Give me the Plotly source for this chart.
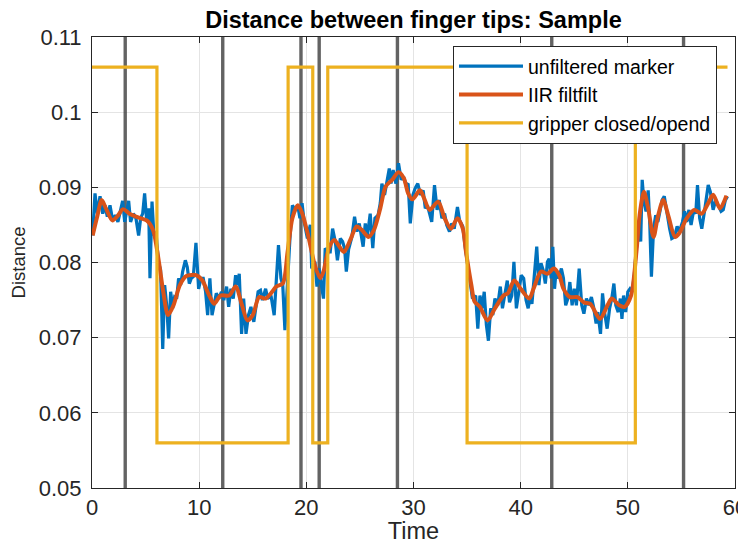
import plotly.graph_objects as go

# ---------------- data ----------------
raw_t = [0.06, 0.28, 0.50, 0.75, 1.00, 1.21, 1.43, 1.68, 1.93, 2.18, 2.42, 2.67, 2.86, 3.05, 3.23, 3.42,
         3.60, 3.86, 4.10, 4.35, 4.54, 4.73, 4.91, 5.10, 5.29, 5.41, 5.60, 5.78, 5.97, 6.19, 6.40, 6.60,
         6.78, 6.97, 7.15, 7.34, 7.53, 7.71, 7.90, 8.08, 8.27, 8.46, 8.71, 8.89, 9.08, 9.27, 9.45, 9.70,
         9.95, 10.17, 10.38, 10.60, 10.79, 11.00, 11.20, 11.40, 11.60, 11.84, 12.08, 12.30, 12.56, 12.75,
         12.96, 13.18, 13.40, 13.59, 13.74, 13.96, 14.15, 14.37, 14.60, 14.83, 15.10, 15.50, 15.72, 15.90,
         16.20, 16.40, 16.70, 17.00, 17.40, 17.63, 17.80, 18.00, 18.25, 18.47, 18.70, 18.97, 19.20, 19.40,
         19.60, 19.80, 20.10, 20.37, 20.50, 20.80, 20.99, 21.20, 21.40, 21.60, 21.76, 22.00, 22.23, 22.45,
         22.70, 22.90, 23.17, 23.38, 23.57, 23.73, 23.94, 24.25, 24.50, 24.72, 24.94, 25.10, 25.30, 25.50,
         25.70, 25.96, 26.20, 26.40, 26.70, 26.90, 27.05, 27.30, 27.55, 27.74, 27.90, 28.10, 28.36, 28.60,
         28.85, 29.07, 29.30, 29.50, 29.70, 29.95, 30.16, 30.40, 30.65, 30.90, 31.10, 31.30, 31.50, 31.70,
         31.96, 32.20, 32.40, 32.65, 32.90, 33.10, 33.36, 33.57, 33.80, 34.10, 34.30, 34.60, 34.80, 35.00,
         35.30, 35.50, 35.80, 36.00, 36.20, 36.40, 36.60, 36.80, 36.99, 37.20, 37.40, 37.60, 37.86, 38.10,
         38.30, 38.53, 38.75, 38.96, 39.17, 39.37, 39.60, 39.83, 40.05, 40.28, 40.50, 40.70, 40.90, 41.05,
         41.20, 41.50, 41.70, 41.90, 42.10, 42.30, 42.50, 42.66, 42.85, 43.00, 43.16, 43.30, 43.55, 43.80,
         43.99, 44.20, 44.40, 44.59, 44.80, 45.00, 45.20, 45.46, 45.70, 45.90, 46.14, 46.36, 46.60, 46.80,
         47.04, 47.20, 47.45, 47.64, 47.82, 48.07, 48.30, 48.50, 48.70, 48.88, 49.10, 49.30, 49.45, 49.60,
         49.80, 50.00, 50.20, 50.40, 50.60, 50.80, 51.00, 51.20, 51.34, 51.50, 51.70, 51.90, 52.05, 52.20,
         52.40, 52.60, 52.80, 53.05, 53.20, 53.40, 53.70, 53.90, 54.10, 54.35, 54.60, 54.80, 55.10, 55.30,
         55.50, 55.70, 55.90, 56.15, 56.34, 56.50, 56.70, 56.90, 57.15, 57.30, 57.50, 57.70, 57.96, 58.20,
         58.46, 58.70, 58.90, 59.10, 59.30]
raw_d = [0.0836, 0.0892, 0.0865, 0.0888, 0.0865, 0.0876, 0.0861, 0.0876, 0.0856, 0.0863, 0.0854, 0.0870,
         0.0882, 0.0854, 0.0870, 0.0882, 0.0854, 0.0865, 0.0859, 0.0836, 0.0859, 0.0865, 0.0892, 0.0856,
         0.0872, 0.0779, 0.0881, 0.0836, 0.0841, 0.0801, 0.0790, 0.0685, 0.0770, 0.0743, 0.0699, 0.0761,
         0.0739, 0.0754, 0.0752, 0.0779, 0.0770, 0.0788, 0.0803, 0.0794, 0.0772, 0.0779, 0.0781, 0.0826,
         0.0765, 0.0779, 0.0779, 0.0761, 0.0730, 0.0779, 0.0730, 0.0747, 0.0759, 0.0752, 0.0761, 0.0750,
         0.0768, 0.0741, 0.0765, 0.0752, 0.0783, 0.0770, 0.0785, 0.0705, 0.0752, 0.0705, 0.0730, 0.0741,
         0.0721, 0.0761, 0.0763, 0.0750, 0.0765, 0.0752, 0.0756, 0.0730, 0.0823, 0.0779, 0.0770, 0.0710,
         0.0779, 0.0832, 0.0876, 0.0870, 0.0876, 0.0859, 0.0879, 0.0854, 0.0832, 0.0850, 0.0792, 0.0801,
         0.0768, 0.0792, 0.0770, 0.0752, 0.0819, 0.0814, 0.0814, 0.0845, 0.0828, 0.0803, 0.0832, 0.0828,
         0.0819, 0.0788, 0.0817, 0.0834, 0.0861, 0.0841, 0.0852, 0.0839, 0.0821, 0.0852, 0.0836, 0.0865,
         0.0819, 0.0859, 0.0863, 0.0879, 0.0905, 0.0890, 0.0908, 0.0925, 0.0905, 0.0923, 0.0905, 0.0932,
         0.0910, 0.0914, 0.0903, 0.0905, 0.0852, 0.0890, 0.0899, 0.0905, 0.0890, 0.0896, 0.0872, 0.0876,
         0.0865, 0.0854, 0.0903, 0.0870, 0.0883, 0.0859, 0.0865, 0.0850, 0.0841, 0.0852, 0.0845, 0.0874,
         0.0856, 0.0848, 0.0823, 0.0801, 0.0774, 0.0752, 0.0756, 0.0712, 0.0756, 0.0739, 0.0761, 0.0717,
         0.0696, 0.0739, 0.0730, 0.0752, 0.0743, 0.0768, 0.0739, 0.0756, 0.0776, 0.0747, 0.0756, 0.0801,
         0.0739, 0.0761, 0.0783, 0.0779, 0.0750, 0.0739, 0.0756, 0.0745, 0.0770, 0.0821, 0.0770, 0.0799,
         0.0790, 0.0772, 0.0801, 0.0805, 0.0779, 0.0821, 0.0765, 0.0788, 0.0779, 0.0792, 0.0779, 0.0743,
         0.0752, 0.0774, 0.0743, 0.0765, 0.0743, 0.0792, 0.0743, 0.0732, 0.0752, 0.0743, 0.0754, 0.0741,
         0.0719, 0.0734, 0.0705, 0.0759, 0.0734, 0.0712, 0.0739, 0.0752, 0.0772, 0.0743, 0.0734, 0.0752,
         0.0725, 0.0756, 0.0734, 0.0761, 0.0765, 0.0761, 0.0783, 0.0819, 0.0841, 0.0828, 0.0910, 0.0881,
         0.0868, 0.0896, 0.0850, 0.0781, 0.0845, 0.0863, 0.0854, 0.0874, 0.0883, 0.0888, 0.0859, 0.0845,
         0.0832, 0.0834, 0.0848, 0.0841, 0.0854, 0.0868, 0.0854, 0.0870, 0.0850, 0.0870, 0.0865, 0.0903,
         0.0859, 0.0845, 0.0868, 0.0881, 0.0903, 0.0894, 0.0870, 0.0883, 0.0874, 0.0868, 0.0870, 0.0883,
         0.0888]

filt_t = [0.06, 0.5, 0.9, 1.3, 1.9, 2.4, 2.9, 3.5, 4.5, 5.1, 5.7, 6.2, 6.65, 7.1, 7.6, 8.2, 8.8, 9.76,
          10.3, 10.94, 11.4, 12.0, 12.8, 13.4, 14.0, 14.5, 15.0, 15.6, 16.2, 16.7, 17.2, 17.8, 18.25,
          18.7, 19.2, 19.6, 20.2, 20.8, 21.3, 21.6, 22.1, 22.6, 23.0, 23.5, 24.1, 24.7, 25.2, 25.8, 26.3,
          26.9, 27.4, 28.0, 28.6, 29.1, 29.5, 29.9, 30.6, 31.0, 31.5, 32.3, 32.9, 33.5, 34.1, 34.6, 34.9,
          35.4, 35.7, 36.2, 36.9, 37.6, 38.4, 38.8, 39.4, 40.0, 40.8, 41.2, 41.9, 42.5, 43.1, 43.6, 44.0,
          44.6, 45.3, 45.9, 46.5, 47.4, 48.1, 48.5, 49.2, 49.7, 50.3, 50.8, 51.1, 51.5, 51.9, 52.4, 52.8,
          53.3, 53.8, 54.4, 54.8, 55.5, 56.2, 56.9, 57.5, 57.96, 58.6, 59.2]
filt_d = [0.0836, 0.0862, 0.0883, 0.0872, 0.0856, 0.0862, 0.0871, 0.0865, 0.0859, 0.0856, 0.0843, 0.0805,
          0.0761, 0.0730, 0.0743, 0.0770, 0.0782, 0.0783, 0.0776, 0.0756, 0.0745, 0.0756, 0.0756, 0.0768,
          0.0743, 0.0723, 0.0730, 0.0754, 0.0752, 0.0759, 0.0768, 0.0772, 0.0814, 0.0859, 0.0876, 0.0866,
          0.0834, 0.0796, 0.0779, 0.0788, 0.0819, 0.0830, 0.0823, 0.0814, 0.0830, 0.0848, 0.0843, 0.0834,
          0.0843, 0.0872, 0.0901, 0.0910, 0.0920, 0.0912, 0.0892, 0.0884, 0.0896, 0.0885, 0.0870, 0.0881,
          0.0859, 0.0845, 0.0859, 0.0845, 0.0814, 0.0770, 0.0748, 0.0741, 0.0723, 0.0739, 0.0756, 0.0759,
          0.0776, 0.0765, 0.0752, 0.0765, 0.0788, 0.0785, 0.0792, 0.0783, 0.0765, 0.0754, 0.0754, 0.0747,
          0.0745, 0.0725, 0.0743, 0.0752, 0.0743, 0.0741, 0.0756, 0.0814, 0.0863, 0.0894, 0.0872, 0.0834,
          0.0861, 0.0883, 0.0861, 0.0834, 0.0839, 0.0859, 0.0870, 0.0865, 0.0879, 0.0890, 0.0872, 0.0889]

grip_t = [0.0, 6.06, 18.3, 20.6, 22.0, 35.0, 50.7, 59.3]
grip_d = [0.106, 0.056, 0.106, 0.056, 0.106, 0.056, 0.106, 0.106]

event_t = [3.1, 12.2, 19.5, 21.2, 28.5, 42.9, 55.2]

y_ticks = [0.05, 0.06, 0.07, 0.08, 0.09, 0.10, 0.11]
y_tick_text = ["0.05", "0.06", "0.07", "0.08", "0.09", "0.1", "0.11"]
x_ticks = [0, 10, 20, 30, 40, 50, 60]
y_range = [0.05, 0.11]

# ---------------- figure ----------------
# The page body adds an 8 px margin, so the figure is shifted by 8 px.
FONT = "Liberation Sans, Arial, Helvetica, sans-serif"
AX = "#262626"
W, H = 746, 536

ev_x, ev_y = [], []
for e in event_t:
    ev_x += [e, e, None]
    ev_y += [y_range[0], y_range[1], None]

fig = go.Figure()
fig.add_trace(go.Scatter(x=ev_x, y=ev_y, mode="lines", showlegend=False, hoverinfo="skip",
                         line=dict(color="rgba(60,60,60,0.8)", width=3.4)))
fig.add_trace(go.Scatter(x=raw_t, y=raw_d, mode="lines", name="unfiltered marker",
                         line=dict(color="#0072BD", width=3.2)))
fig.add_trace(go.Scatter(x=filt_t, y=filt_d, mode="lines", name="IIR filtfilt",
                         line=dict(color="#D95319", width=4, shape="spline", smoothing=0.8)))
fig.add_trace(go.Scatter(x=grip_t, y=grip_d, mode="lines", name="gripper closed/opend",
                         line=dict(color="#EDB120", width=3.2, shape="hv")))

fig.update_layout(
    width=W, height=H,
    margin=dict(l=84, r=19, t=29, b=56, autoexpand=False),
    paper_bgcolor="white", plot_bgcolor="white",
    font=dict(family=FONT, color=AX, size=22),
    title=dict(text="<b>Distance between finger tips: Sample</b>", x=0.5, xref="paper",
               xanchor="center", yref="container", y=1 - 12 / H, yanchor="middle",
               font=dict(family=FONT, size=23.5, color="black")),
    legend=dict(x=0.972, y=0.98, xanchor="right", yanchor="top",
                bgcolor="white", bordercolor=AX, borderwidth=1,
                font=dict(family=FONT, size=19.5, color="black"),
                tracegroupgap=0, itemwidth=64),
    showlegend=True,
)
fig.update_xaxes(range=[0, 60], tickvals=x_ticks, ticks="inside", ticklen=6, tickcolor=AX,
                 showline=True, linecolor=AX, linewidth=1, mirror="ticks", automargin=False,
                 showgrid=True, gridcolor="#e4e4e4", gridwidth=1, zeroline=False,
                 ticklabelstandoff=0,
                 title=dict(text="Time", font=dict(size=23.5, color=AX), standoff=0),
                 tickfont=dict(size=22, color=AX))
fig.update_yaxes(range=y_range, tickvals=y_ticks, ticktext=y_tick_text, ticks="inside", ticklen=6,
                 tickcolor=AX, showline=True, linecolor=AX, linewidth=1, mirror="ticks", automargin=False,
                 showgrid=True, gridcolor="#e4e4e4", gridwidth=1, zeroline=False,
                 ticklabelstandoff=5,
                 title=dict(text="Distance", font=dict(size=18.5, color=AX), standoff=10),
                 tickfont=dict(size=22, color=AX))

fig.write_html("out.html")
